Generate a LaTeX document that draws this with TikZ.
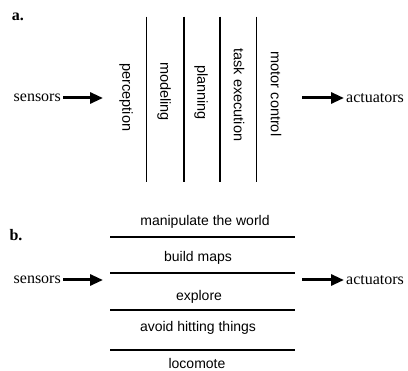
\documentclass[tikz,border=0pt]{standalone}
\usepackage{fontspec}
\setmainfont{Liberation Serif}
\setsansfont{Liberation Sans}
\usepackage{tikz}
\usetikzlibrary{arrows.meta}
\tikzstyle{tag}=[font=\bfseries\fontsize{16}{18}\selectfont]
\tikzstyle{io}=[font=\fontsize{16}{18}\selectfont,inner sep=2pt]
\tikzstyle{layer}=[font=\sffamily\fontsize{14.5}{17}\selectfont,rotate=-90]
\tikzstyle{behav}=[font=\sffamily\fontsize{14}{17}\selectfont]
\tikzstyle{flow}=[line width=3pt,-{Triangle[length=13pt,width=11pt]}]
\tikzstyle{rule}=[line width=1.3pt]
\tikzstyle{none}=[]

\begin{document}
\begin{tikzpicture}[x=10pt,y=-10pt]
            \useasboundingbox (0,0) rectangle (40.8,37.1);
            % a.
            \node [style=tag] (0) at (1.8, 1.7) {a.};
            \node [style=io,anchor=east] (1) at (6.3, 9.8) {sensors};
            \node [style=none] (2) at (10.3, 9.8) {};
            \node [style=none] (3) at (30.2, 9.8) {};
            \node [style=io,anchor=west] (4) at (34.4, 9.8) {actuators};
            \node [style=layer] (5) at (12.6, 9.75) {perception};
            \node [style=layer] (6) at (16.4, 9.15) {modeling};
            \node [style=layer] (7) at (20.1, 9.25) {planning};
            \node [style=layer] (8) at (23.9, 9.5) {task execution};
            \node [style=layer] (9) at (27.6, 9.4) {motor control};
            \node [style=none] (10) at (14.67, 1.67) {};
            \node [style=none] (11) at (14.67, 18.2) {};
            \node [style=none] (12) at (18.4, 1.67) {};
            \node [style=none] (13) at (18.4, 18.2) {};
            \node [style=none] (14) at (22.0, 1.67) {};
            \node [style=none] (15) at (22.0, 18.2) {};
            \node [style=none] (16) at (25.67, 1.67) {};
            \node [style=none] (17) at (25.67, 18.2) {};
            \draw [style=flow] (1) to (2.center);
            \draw [style=flow] (3.center) to (4);
            \draw [style=rule] (10.center) to (11.center);
            \draw [style=rule] (12.center) to (13.center);
            \draw [style=rule] (14.center) to (15.center);
            \draw [style=rule] (16.center) to (17.center);
            % b.
            \node [style=tag] (20) at (1.6, 23.5) {b.};
            \node [style=io,anchor=east] (21) at (6.3, 28.0) {sensors};
            \node [style=none] (22) at (10.3, 28.0) {};
            \node [style=none] (23) at (30.2, 28.0) {};
            \node [style=io,anchor=west] (24) at (34.4, 28.0) {actuators};
            \node [style=behav] (25) at (20.5, 22.2) {manipulate the world};
            \node [style=behav] (26) at (19.8, 25.8) {build maps};
            \node [style=behav] (27) at (19.9, 29.7) {explore};
            \node [style=behav] (28) at (19.8, 32.8) {avoid hitting things};
            \node [style=behav] (29) at (19.7, 36.3) {locomote};
            \node [style=none] (30) at (11.0, 23.7) {};
            \node [style=none] (31) at (29.5, 23.7) {};
            \node [style=none] (32) at (11.0, 27.3) {};
            \node [style=none] (33) at (29.5, 27.3) {};
            \node [style=none] (34) at (11.0, 31.0) {};
            \node [style=none] (35) at (29.5, 31.0) {};
            \node [style=none] (36) at (11.0, 35.0) {};
            \node [style=none] (37) at (29.5, 35.0) {};
            \draw [style=flow] (21) to (22.center);
            \draw [style=flow] (23.center) to (24);
            \draw [style=rule] (30.center) to (31.center);
            \draw [style=rule] (32.center) to (33.center);
            \draw [style=rule] (34.center) to (35.center);
            \draw [style=rule] (36.center) to (37.center);
    \end{tikzpicture}
\end{document}
